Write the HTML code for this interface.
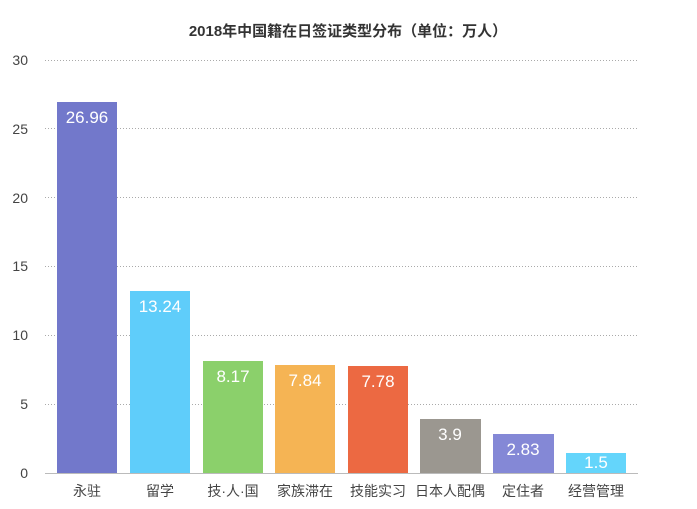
<!DOCTYPE html>
<html><head><meta charset="utf-8"><style>
body{margin:0;background:#fff;}
text{font-family:"Liberation Sans","Noto Sans CJK SC",sans-serif;}
</style></head><body>
<svg width="697" height="504" xmlns="http://www.w3.org/2000/svg">
<text x="348" y="36" text-anchor="middle" font-size="15" font-weight="bold" fill="#333">2018年中国籍在日签证类型分布（单位：万人）</text>
<g stroke="#aaa" stroke-dasharray="1,2" stroke-width="1">
<line x1="45" x2="638" y1="60.5" y2="60.5"/>
<line x1="45" x2="638" y1="128.5" y2="128.5"/>
<line x1="45" x2="638" y1="197.5" y2="197.5"/>
<line x1="45" x2="638" y1="266.5" y2="266.5"/>
<line x1="45" x2="638" y1="335.5" y2="335.5"/>
<line x1="45" x2="638" y1="404.5" y2="404.5"/>
</g>
<line x1="45" x2="638" y1="473.5" y2="473.5" stroke="#bbb"/>
<g font-size="14" fill="#444" text-anchor="end">
<text x="28" y="65">30</text><text x="28" y="134">25</text><text x="28" y="203">20</text>
<text x="28" y="271">15</text><text x="28" y="340">10</text><text x="28" y="409">5</text><text x="28" y="478">0</text>
</g>
<rect x="57" y="102" width="60" height="371" fill="#7278cb"/>
<rect x="130" y="291" width="60" height="182" fill="#5fcdfa"/>
<rect x="203" y="361" width="60" height="112" fill="#8bd06b"/>
<rect x="275" y="365" width="60" height="108" fill="#f5b454"/>
<rect x="348" y="366" width="60" height="107" fill="#ec6942"/>
<rect x="420" y="419" width="61" height="54" fill="#9b9790"/>
<rect x="493" y="434" width="61" height="39" fill="#8488d6"/>
<rect x="566" y="453" width="60" height="20" fill="#64d5fb"/>
<g font-size="17" fill="#fff" text-anchor="middle">
<text x="87" y="123">26.96</text><text x="160" y="312">13.24</text><text x="233" y="382">8.17</text>
<text x="305" y="386">7.84</text><text x="378" y="387">7.78</text><text x="450" y="440">3.9</text>
<text x="523" y="455">2.83</text><text x="596" y="468">1.5</text>
</g>
<g font-size="14" fill="#444" text-anchor="middle">
<text x="87" y="496">永驻</text><text x="160" y="496">留学</text><text x="233" y="496">技·人·国</text>
<text x="305" y="496">家族滞在</text><text x="378" y="496">技能实习</text><text x="450" y="496">日本人配偶</text>
<text x="523" y="496">定住者</text><text x="596" y="496">经营管理</text>
</g>
</svg>
</body></html>
